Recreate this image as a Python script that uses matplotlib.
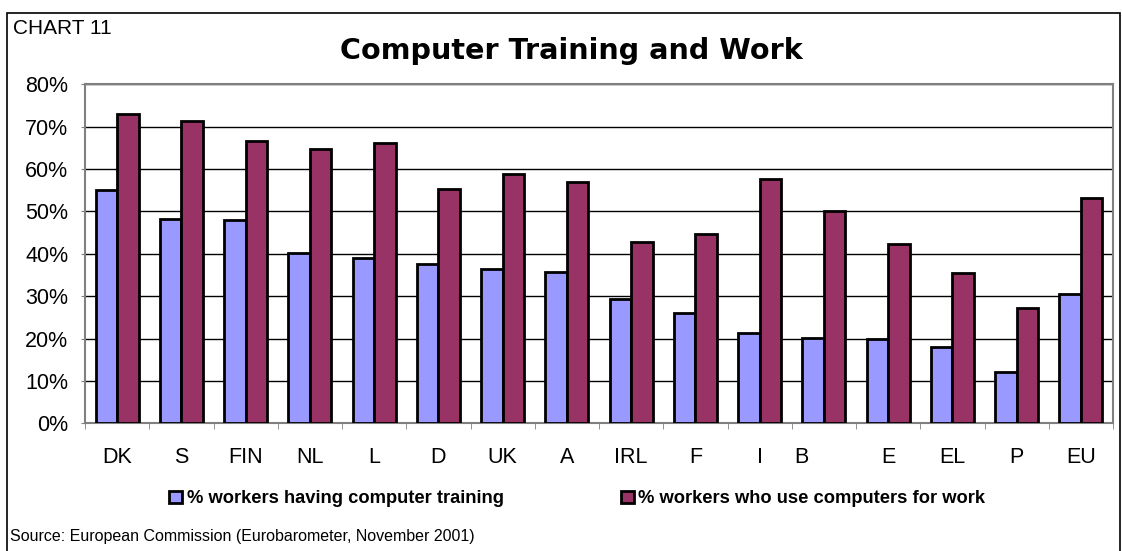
import matplotlib.pyplot as plt
import numpy as np
from matplotlib.patches import Rectangle
from matplotlib.transforms import ScaledTranslation

countries = ['DK', 'S', 'FIN', 'NL', 'L', 'D', 'UK', 'A', 'IRL', 'F', 'I', 'B', 'E', 'EL', 'P', 'EU']
training = [55.0, 48.1, 48.0, 40.2, 38.9, 37.6, 36.4, 35.8, 29.3, 26.0, 21.3, 20.2, 19.9, 17.9, 12.0, 30.4]
use_at_work = [72.9, 71.4, 66.6, 64.7, 66.1, 55.3, 58.8, 56.9, 42.9, 44.7, 57.7, 50.2, 42.3, 35.4, 27.1, 53.1]
yticks = [0, 10, 20, 30, 40, 50, 60, 70, 80]
legend_labels = ['% workers having computer training', '% workers who use computers for work']

plt.rcParams['font.family'] = ['Liberation Sans', 'DejaVu Sans']

fig = plt.figure(figsize=(11.22, 5.51), dpi=100)
ax = fig.add_axes([85 / 1122, 1 - 423.3 / 551, (1113 - 85) / 1122, (423.3 - 84.3) / 551])

x = np.arange(len(countries))
w = 0.335
b1 = ax.bar(x - w / 2, training, w, color='#9999FF', edgecolor='black', linewidth=2, zorder=3,
            label=legend_labels[0])
b2 = ax.bar(x + w / 2, use_at_work, w, color='#993366', edgecolor='black', linewidth=2, zorder=3,
            label=legend_labels[1])

ax.set_xlim(-0.5, len(countries) - 0.5)
ax.set_ylim(0, 80)
ax.set_yticks(yticks)
ax.set_yticklabels([f'{t}%' for t in yticks], fontsize=15.5)
ax.yaxis.grid(True, color='black', linewidth=1, zorder=0)
ax.set_axisbelow(True)

ax.set_xticks(x)
ax.set_xticklabels(countries, fontsize=15.5)
ax.set_xticks(np.arange(len(countries) + 1) - 0.5, minor=True)
ax.tick_params(axis='x', which='major', length=0, pad=17)
ax.tick_params(axis='x', which='minor', length=4, color='#808080', direction='out')
ax.tick_params(axis='y', length=3, color='#808080', direction='out', pad=9)

# B label sits left of its group in the original
lbl = ax.get_xticklabels()[countries.index('B')]
lbl.set_transform(lbl.get_transform() + ScaledTranslation(-0.22, 0, fig.dpi_scale_trans))

for s in ['top', 'right', 'left', 'bottom']:
    ax.spines[s].set_color('#808080')
    ax.spines[s].set_linewidth(1.5)

ax.legend(handles=[b1, b2], loc='center', bbox_to_anchor=(0.479, -0.223), ncol=2,
          frameon=False, handlelength=0.7, handleheight=0.7, handletextpad=0.25,
          columnspacing=6.4, prop={'weight': 'bold', 'size': 13.2})

fig.text(571 / 1122, 1 - 51 / 551, 'Computer Training and Work', ha='center', va='center',
         fontsize=20.6, fontweight='bold', family='DejaVu Sans')
fig.text(13 / 1122, 1 - 29 / 551, 'CHART 11', ha='left', va='center', fontsize=15)
fig.text(10 / 1122, 1 - 537 / 551, 'Source: European Commission (Eurobarometer, November 2001)',
         ha='left', va='center', fontsize=11.5)

fig.patches.append(Rectangle((7 / 1122, -0.02), 1113 / 1122, 1.02 - 13 / 551, transform=fig.transFigure,
                             fill=False, edgecolor='black', linewidth=1.2))

fig.savefig('out.png', dpi=100)
